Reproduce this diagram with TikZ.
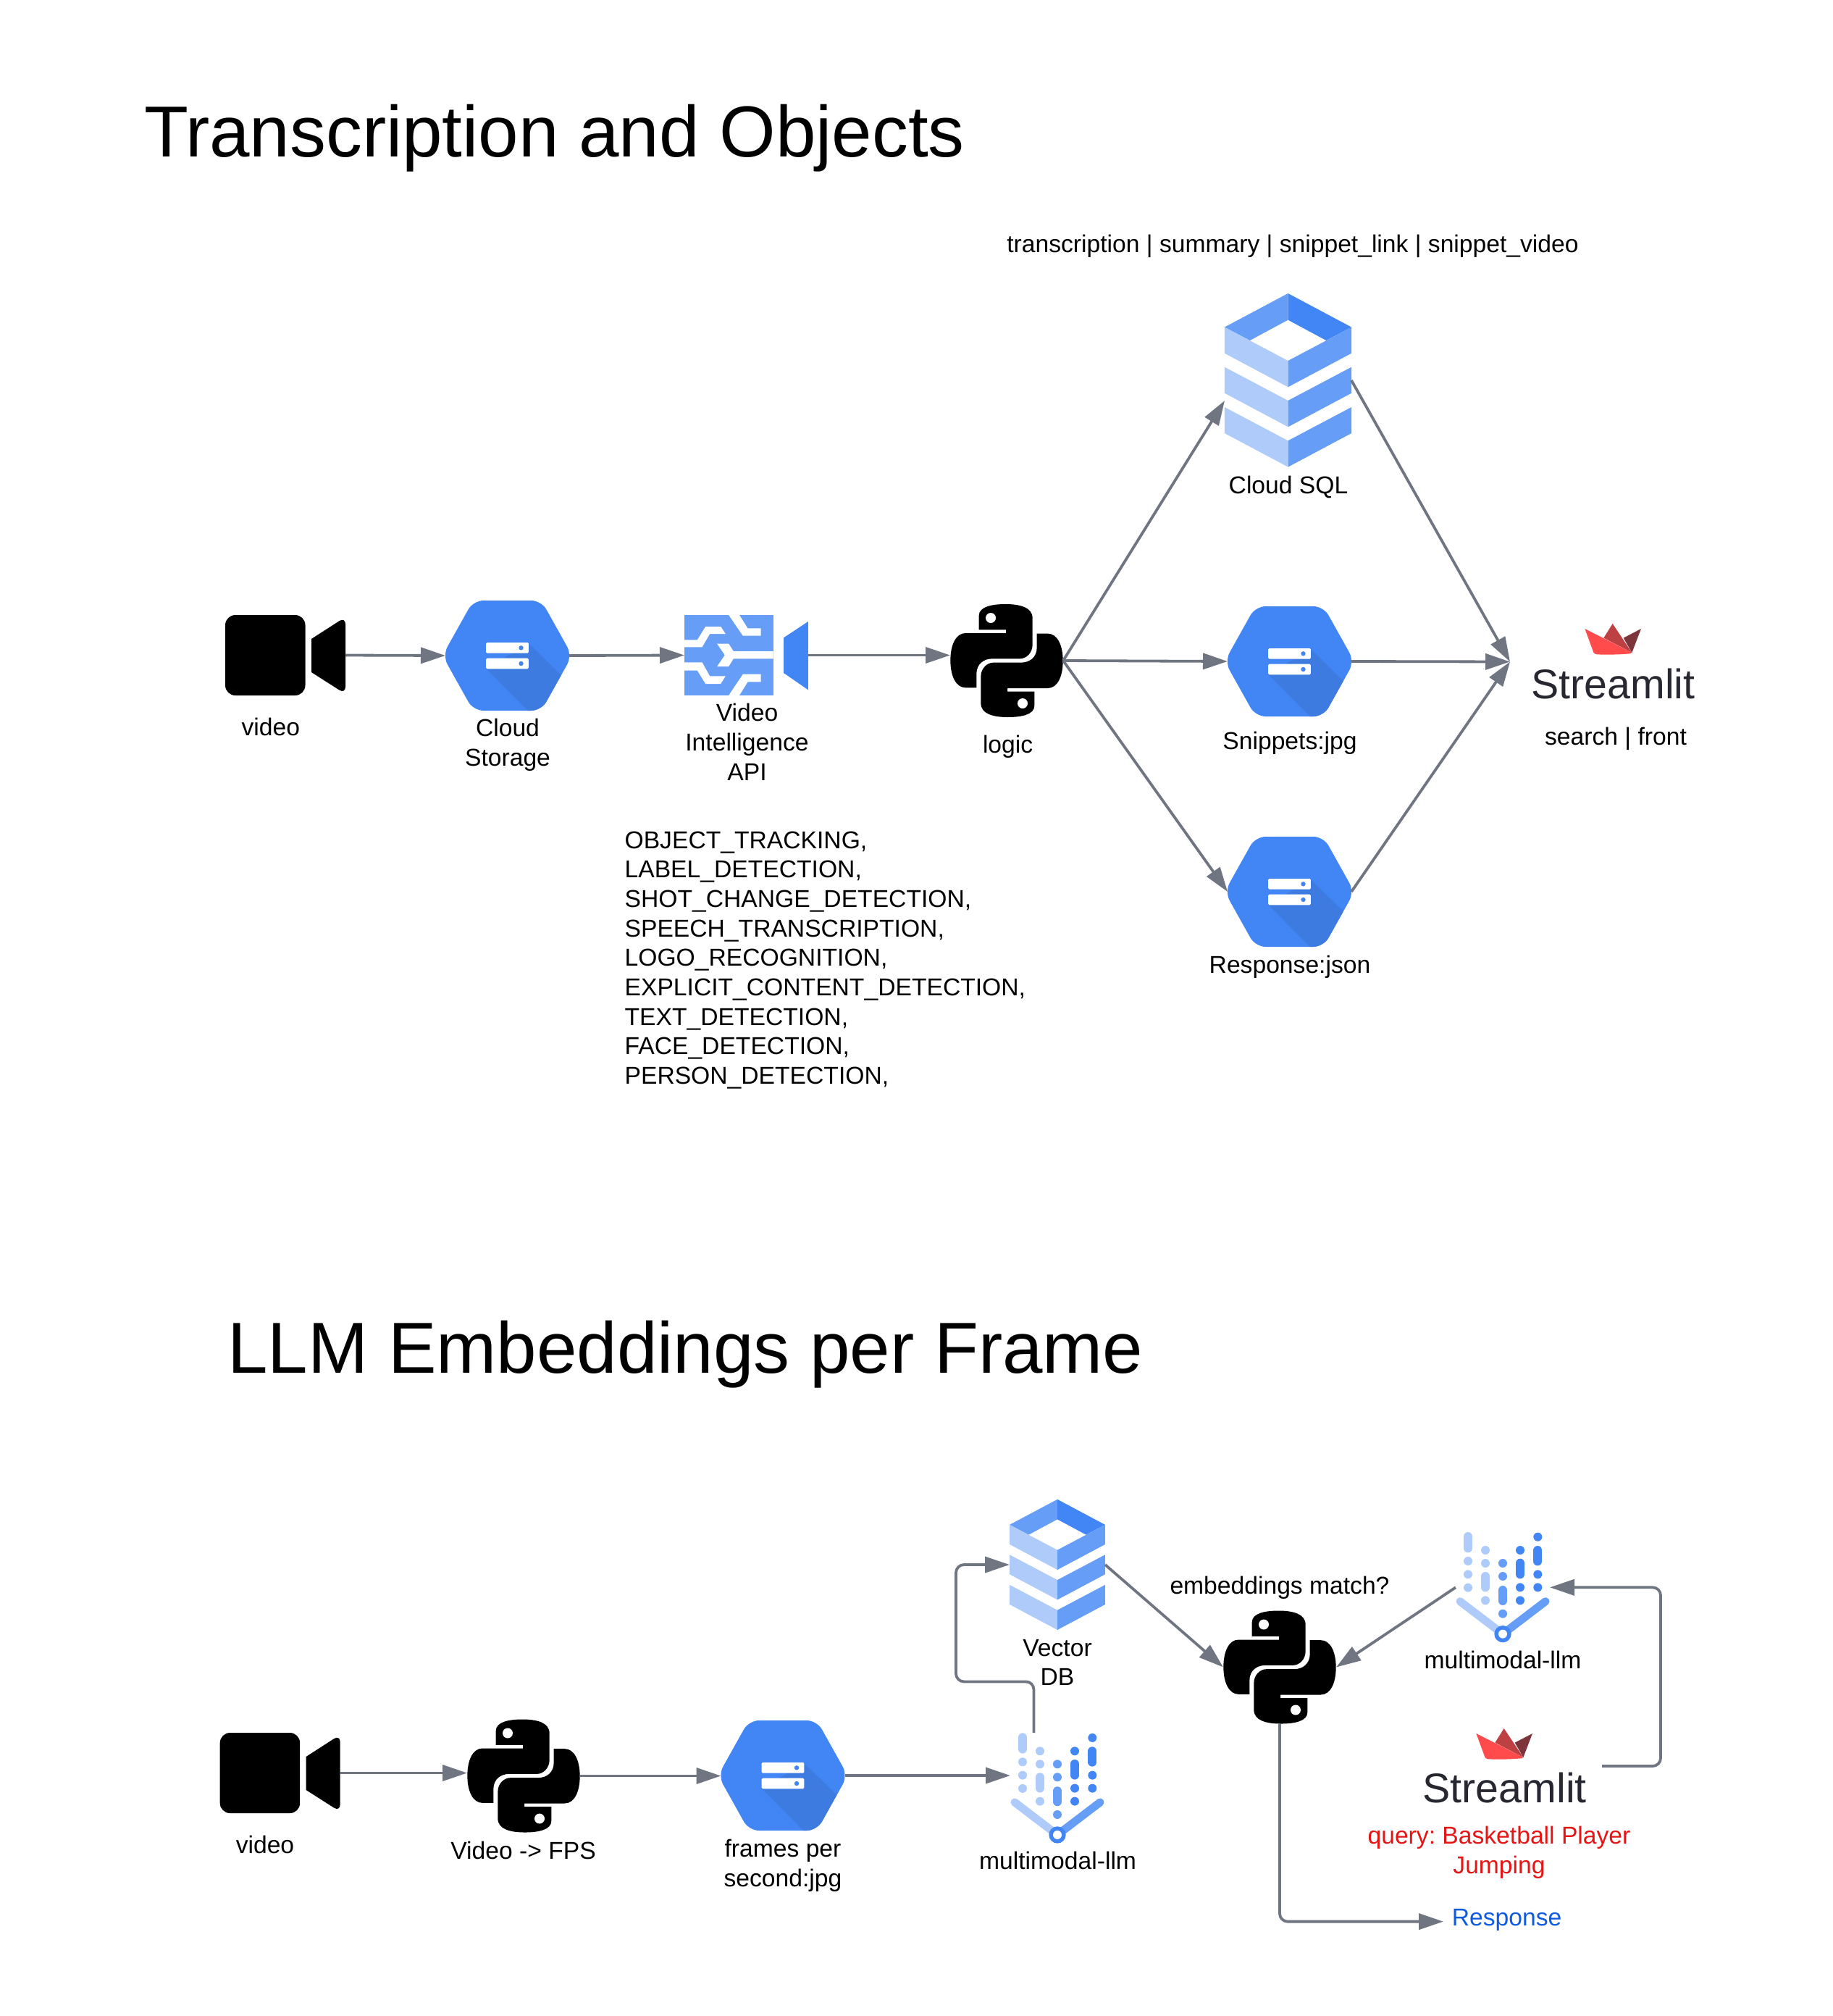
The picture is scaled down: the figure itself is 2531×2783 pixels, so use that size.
\documentclass[tikz,border=0pt]{standalone}
\usepackage{fontspec}
\setmainfont{Liberation Sans}
\usetikzlibrary{arrows.meta}
\definecolor{gblue}{HTML}{4285F4}
\definecolor{gmid}{HTML}{669DF6}
\definecolor{glight}{HTML}{AECBFA}
\definecolor{gshade}{HTML}{3D7BE0}
\definecolor{connc}{HTML}{6F7682}
\definecolor{slred}{HTML}{FF4B4B}
\definecolor{slmid}{HTML}{BD4043}
\definecolor{sldark}{HTML}{7D353B}
\definecolor{slink}{HTML}{262730}
\definecolor{qred}{HTML}{E51515}
\definecolor{respblue}{HTML}{0F5BE0}
\newcommand{\hexoutline}{(-89.5,0) -- (-47,-76) -- (47,-76) -- (89.5,0) -- (47,76) -- (-47,76) -- cycle}
\tikzset{
  x=1pt,y=-1pt,
  conn/.style={draw=connc,line width=3.8pt,-{Triangle[length=34pt,width=22pt,fill=connc]}},
  box/.style={inner sep=0pt,outer sep=0pt,draw=none,fill=none},
  lbl/.style={inner sep=0pt,outer sep=0pt,anchor=base,align=center,font=\fontsize{33.65}{40.7}\selectfont\frenchspacing},
  lefttext/.style={inner sep=0pt,outer sep=0pt,anchor=base west,align=left,font=\fontsize{33.65}{40.7}\selectfont\frenchspacing},
  titletext/.style={inner sep=0pt,outer sep=0pt,anchor=base west,font=\fontsize{99.75}{120}\selectfont},
  brand/.style={inner sep=0pt,outer sep=0pt,anchor=base,text=slink,font=\fontsize{57.3}{66}\selectfont},
  pics/camicon/.style={code={
    \fill[black,rounded corners=14pt] (-83,-55.5) rectangle (27.5,55.5);
    \fill[black] (36,-22.5) [rounded corners=10pt] -- (83,-52.8) -- (83,53.5) [sharp corners] -- (36,23.5) -- cycle;
  }},
  pics/pyicon/.style={code={
    \begin{scope}[scale=1/3,shift={(-330,-336)}]
      \foreach \rot in {0,180}{
        \begin{scope}[rotate around={\rot:(330,336)}]
          \fill[black]
            (215,208) -- (215,150)
            .. controls (215,112) and (270,102) .. (325,102)
            .. controls (385,102) and (437,115) .. (437,160)
            -- (437,270)
            .. controls (437,305) and (410,328) .. (385,328)
            -- (270,328)
            .. controls (235,328) and (205,350) .. (205,390)
            -- (205,448) -- (160,448)
            .. controls (120,448) and (97,400) .. (97,335)
            .. controls (97,270) and (120,222) .. (160,222)
            -- (327,222) -- (327,208) -- cycle;
          \fill[white] (264,159) circle[radius=21];
        \end{scope}
      }
    \end{scope}
  }},
  pics/hexicon/.style={code={
    \begin{scope}
      \clip[rounded corners=14pt] \hexoutline;
      \fill[gblue] (-100,-100) rectangle (100,100);
      \fill[gshade] (-29.3,18) -- (52,100) -- (100,100) -- (100,52) -- (29.3,-17) -- cycle;
    \end{scope}
    \fill[white,rounded corners=1.5pt] (-29.3,-18) rectangle (29.3,-3.3);
    \fill[white,rounded corners=1.5pt] (-29.3,3.7) rectangle (29.3,18.3);
    \fill[gblue] (19,-10.7) circle[radius=3.2];
    \fill[gblue] (19,11) circle[radius=3.2];
  }},
  pics/dbicon/.style={code={
    \begin{scope}[scale=1/3,shift={(-416,-435)}]
      \fill[gmid] (416,75) -- (153,215) -- (258,270) -- (416,185) -- cycle;
      \fill[gblue] (416,75) -- (679,215) -- (574,270) -- (416,185) -- cycle;
      \foreach \dy in {0,165,331}{
        \fill[glight] (153,215+\dy) -- (416,354+\dy) -- (416,463+\dy) -- (153,323+\dy) -- cycle;
        \fill[gmid] (679,215+\dy) -- (416,354+\dy) -- (416,463+\dy) -- (679,323+\dy) -- cycle;
      }
    \end{scope}
  }},
  pics/viicon/.style={code={
    \begin{scope}[scale=1/3,shift={(-271,-193.5)}]
      \fill[gmid] (15,27) rectangle (382,360);
      \fill[white] (15,130) -- (68,130) -- (102,75) -- (165,75) -- (185,105) -- (120,105) -- (88,160) -- (15,160) -- cycle;
      \fill[white] (198,27) -- (242,27) -- (277,82) -- (331,82) -- (331,113) -- (257,113) -- cycle;
      \fill[white] (150,146) -- (198,146) -- (218,177) -- (382,177) -- (382,208) -- (218,208) -- (198,240) -- (150,240) -- (182,193) -- cycle;
      \fill[white] (15,223) -- (88,223) -- (120,280) -- (185,280) -- (165,312) -- (102,312) -- (68,257) -- (15,257) -- cycle;
      \fill[white] (198,360) -- (257,272) -- (331,272) -- (331,304) -- (277,304) -- (242,360) -- cycle;
      \fill[gblue] (426,121) -- (527,54) -- (527,337) -- (426,267) -- cycle;
    \end{scope}
  }},
  pics/llmicon/.style={code={
    \begin{scope}[scale=1/3,shift={(-225,-304)}]
      \draw[glight,line width=11pt,line cap=round] (48,362) -- (225,497);
      \draw[gmid,line width=11pt,line cap=round] (402,362) -- (225,497);
      \fill[gblue] (225,497) circle[radius=35];
      \fill[white] (225,497) circle[radius=18];
      \foreach \y in {195,250,305} \fill[glight] (81,\y) circle[radius=18];
      \foreach \y in {150,204,358} \fill[glight] (153,\y) circle[radius=18];
      \foreach \y in {204,258,413} \fill[gmid] (225,\y) circle[radius=18];
      \foreach \y in {150,304,358} \fill[gblue] (297,\y) circle[radius=18];
      \foreach \y in {95,250,304} \fill[gblue] (370,\y) circle[radius=18];
      \draw[glight,line width=12pt,line cap=round] (81,93) -- (81,142);
      \draw[glight,line width=12pt,line cap=round] (153,258) -- (153,304);
      \draw[gmid,line width=12pt,line cap=round] (225,315) -- (225,360);
      \draw[gblue,line width=12pt,line cap=round] (297,203) -- (297,250);
      \draw[gblue,line width=12pt,line cap=round] (370,150) -- (370,196);
    \end{scope}
  }},
  pics/crownicon/.style={code={
    \begin{scope}[scale=1/3,shift={(-411,-157)}]
      \fill[sldark] (455,152) -- (528,114) -- (490,213) -- cycle;
      \fill[slmid] (373,152) -- (410,93) -- (490,213) -- cycle;
      \fill[slred] (295,114) -- (490,213) -- (482,217) .. controls (440,221) and (380,222) .. (345,220) .. controls (337,219) and (333,216) .. (331,212) -- cycle;
    \end{scope}
  }}
}
\begin{document}
\begin{tikzpicture}
\useasboundingbox (0,0) rectangle (2531,2783);

% ---------- titles
\node[titletext] (title1) at (199,216.5) {Transcription and Objects};
\node[titletext] (title2) at (314.5,1895.5) {LLM Embeddings per Frame};

% ---------- top row: icons and their named boxes
\node[box,minimum width=166pt,minimum height=111pt] (cam1) at (394,904.5) {};
\pic at (394,904.5) {camicon};
\node[box,minimum width=171pt,minimum height=152pt] (store) at (700.5,905) {};
\pic at (700.5,905) {hexicon};
\node[box,minimum width=171pt,minimum height=111pt] (vi) at (1030.5,904.5) {};
\pic at (1030.5,904.5) {viicon};
\node[box,minimum width=156pt,minimum height=156pt] (py1) at (1390,912) {};
\pic at (1390,912) {pyicon};
\node[box,minimum width=175pt,minimum height=240pt] (sql) at (1778.5,525) {};
\pic at (1778.5,525) {dbicon};
\node[box,minimum width=171pt,minimum height=152pt] (snip) at (1780.5,913) {};
\pic at (1780.5,913) {hexicon};
\node[box,minimum width=171pt,minimum height=152pt] (respj) at (1780.5,1231) {};
\pic at (1780.5,1231) {hexicon};
\pic at (2227,882.3) {crownicon};
\node[brand] (stl1) at (2227.5,964) {Streamlit};
\coordinate (sqlin) at (1691,553);
\coordinate (stlin) at (2085,913.5);

% ---------- top row: labels (multi-line labels are placed by their last line)
\node[lbl] (lcam1) at (373.8,1015) {video};
\node[lbl] (lstore) at (701,1057) {Cloud\\Storage};
\node[lbl] (lvi) at (1031.5,1077) {Video\\Intelligence\\API};
\node[lbl] (llogic) at (1391.6,1039) {logic};
\node[lbl] (lsql) at (1779,681.7) {Cloud SQL};
\node[lbl] (lsnip) at (1781,1034.5) {Snippets:jpg};
\node[lbl] (lrespj) at (1781,1343) {Response:json};
\node[lbl] (lstl1) at (2231,1028) {search | front};
\node[lbl] (lfields) at (1785,348) {transcription | summary | snippet\_link | snippet\_video};
\node[lefttext] (lapi) at (862.6,1496.6) {OBJECT\_TRACKING,\\LABEL\_DETECTION,\\SHOT\_CHANGE\_DETECTION,\\SPEECH\_TRANSCRIPTION,\\LOGO\_RECOGNITION,\\EXPLICIT\_CONTENT\_DETECTION,\\TEXT\_DETECTION,\\FACE\_DETECTION,\\PERSON\_DETECTION,};

% ---------- top row: connectors
\draw[conn] (cam1.east) -- (store.west);
\draw[conn] (store.east) -- (vi.west);
\draw[conn] (vi.east) -- (vi.east -| py1.west);
\draw[conn] (py1.east) -- (sqlin);
\draw[conn] (py1.east) -- (snip.west);
\draw[conn] (py1.east) -- (respj.west);
\draw[conn] (sql.east) -- (stlin);
\draw[conn] (snip.east) -- (stlin);
\draw[conn] (respj.east) -- (stlin);

% ---------- bottom row: icons
\node[box,minimum width=166pt,minimum height=111pt] (cam2) at (386.7,2447.5) {};
\pic at (386.7,2447.5) {camicon};
\node[box,minimum width=156pt,minimum height=156pt] (py2) at (723,2451.5) {};
\pic at (723,2451.5) {pyicon};
\node[box,minimum width=171pt,minimum height=152pt] (frames) at (1081,2451) {};
\pic at (1081,2451) {hexicon};
\node[box,minimum width=130pt,minimum height=152pt] (llm1) at (1460,2468.6) {};
\pic at (1460,2468.6) {llmicon};
\node[box,minimum width=132pt,minimum height=180pt] (vdb) at (1460,2160) {};
\pic[scale=0.752] at (1460,2160) {dbicon};
\node[box,minimum width=156pt,minimum height=156pt] (py3) at (1767,2301.5) {};
\pic at (1767,2301.5) {pyicon};
\node[box,minimum width=130pt,minimum height=152pt] (llm2) at (2075,2191.3) {};
\pic at (2075,2191.3) {llmicon};
\pic at (2077,2407.3) {crownicon};
\node[brand] (stl2) at (2077.7,2488.5) {Streamlit};
\coordinate (llmup) at (1427.5,2392);
\coordinate (stlout) at (2212,2438);
\coordinate (respin) at (1993,2652.6);

% ---------- bottom row: labels
\node[lbl] (lcam2) at (366,2558) {video};
\node[lbl] (lpy2) at (722.6,2566) {Video -> FPS};
\node[lbl] (lframes) at (1081,2604.5) {frames per\\second:jpg};
\node[lbl] (lllm1) at (1460.6,2580) {multimodal-llm};
\node[lbl] (lvdb) at (1460,2326.8) {Vector\\DB};
\node[lbl] (lmatch) at (1767,2200) {embeddings match?};
\node[lbl] (lllm2) at (2075,2303) {multimodal-llm};
\node[lbl,text=qred] (lquery) at (2070,2586) {query: Basketball Player\\Jumping};
\node[lbl,text=respblue] (lresp) at (2080.6,2658) {Response};

% ---------- bottom row: connectors
\draw[conn] (cam2.east) -- (cam2.east -| py2.west);
\draw[conn] (py2.east) -- (py2.east -| frames.west);
\draw[conn] (frames.east) -- (frames.east -| llm1.west);
\draw[conn,rounded corners=11pt] (llmup) -- ++(0,-70.6) -- ++(-107.5,0) |- (vdb.west);
\draw[conn] (vdb.east) -- (py3.west);
\draw[conn] (llm2.west) -- (py3.east);
\draw[conn,rounded corners=11pt] (stlout) -- ++(81,0) |- (llm2.east);
\draw[conn,rounded corners=11pt] (py3.south) |- (respin);
\end{tikzpicture}
\end{document}
